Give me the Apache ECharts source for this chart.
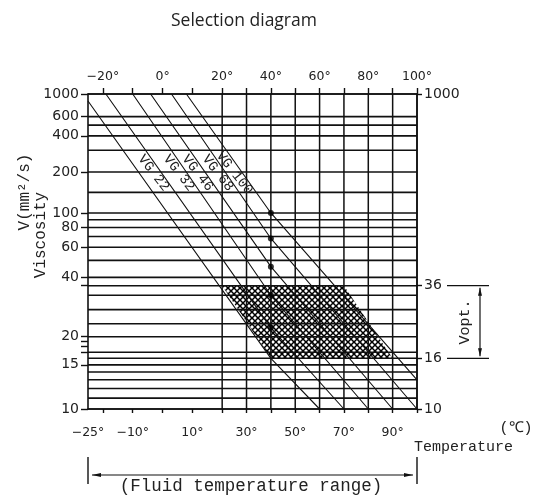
<!DOCTYPE html>
<html><head><meta charset="utf-8">
<script src="https://cdn.jsdelivr.net/npm/echarts@6/dist/echarts.min.js"></script>
<style>html,body{margin:0;padding:0;background:#fff}#c{width:542px;height:497px}</style>
</head><body><div id="c"></div>
<script>
// ---------------- data ----------------
const viscGridLines   = [1000,600,500,400,300,200,140,100,90,80,70,60,50,40,36,32,27,23,20,17,16,15,14,13,12,11,10];
const viscLeftLabels  = [1000,600,400,200,100,80,60,40,20,15,10];
const viscLeftTicks   = [1000,600,400,200,100,80,60,40,36,20,19,18,17,15,10];
const viscRightLabels = [1000,36,16,10];
const tempGridLines   = [20,30,40,50,60,70,80,90,100];
const tempTopLabels   = [-20,0,20,40,60,80,100];
const tempBottomLabels= [-25,-10,10,30,50,70,90];
const tempTicks       = [-20,-10,0,10,20,30,40,50,60,70,80,90,100];
const vgNames  = ['', 'VG 22', 'VG 32', 'VG 46', 'VG 68', 'VG 100'];
const vgTemps  = [[-25,40,60],[-19,40,70],[-10,40,80],[-4,40,90],[3,40,100],[8,40,100]];
const vgVisc   = [[850,16,10],[1000,22,10],[1000,32,10],[1000,46,10],[1000,68,10],[1000,100,13]];
const dotTemp  = 40;
const dotVisc  = [22,32,46,68,100];
const optTemps = [20,70,90,40];
const optVisc  = [36,36,16,16];
const tempRange = [-25,100];
const viscRange = [10,1000];
const vOptRange = [36,16];

// ---------------- scale transforms ----------------
const BREAK = 20, STRETCH = 2.984/2.4375;       // temperature axis is stretched below 20 °C
const tx  = T => T >= BREAK ? T : BREAK + (T - BREAK) * STRETCH;
const itx = x => x >= BREAK ? x : BREAK + (x - BREAK) / STRETCH;
const ty  = v => Math.log10(Math.log10(v + 0.7));   // Ubbelohde-Walther viscosity scale
const ity = w => Math.pow(10, Math.pow(10, w)) - 0.7;

const XMIN = tx(tempRange[0]), XMAX = tx(tempRange[1]);
const YMIN = ty(viscRange[0]), YMAX = ty(viscRange[1]);
const INK = '#111', TXT = '#222';
const NUM = 'DejaVu Sans', MONO = 'Liberation Mono';
const degFmt = v => { const t = Math.round(itx(v)); return (t < 0 ? '\u2212' + Math.abs(t) : t) + '°'; };
const visFmt = v => String(Math.round(ity(v)));

function hatch(){
  const c = document.createElement('canvas'); c.width = 6; c.height = 6;
  const g = c.getContext('2d');
  g.fillStyle = '#fff'; g.fillRect(0,0,6,6);
  g.strokeStyle = '#000'; g.lineWidth = 1.5;
  g.beginPath(); g.moveTo(-1,-1); g.lineTo(7,7); g.moveTo(7,-1); g.lineTo(-1,7); g.stroke();
  return c;
}
const pat = hatch();

const chart = echarts.init(document.getElementById('c'), null, {renderer:'canvas'});
const series = [];

// optimal viscosity area
series.push({type:'custom', name:'opt', z:1, silent:true, animation:false,
  data:[[XMIN,YMIN]],
  renderItem:(p,api)=>{
    const pts = optTemps.map((t,i)=>api.coord([tx(t), ty(optVisc[i])]));
    return {type:'polygon', shape:{points:pts}, style:{fill:{image:pat, repeat:'repeat'}, stroke:null}};
  }});

// horizontal grid
series.push({type:'custom', name:'hgrid', z:2, silent:true, animation:false,
  data: viscGridLines.map(v=>[XMIN, ty(v)]),
  renderItem:(p,api)=>{
    const y = api.value(1), a = api.coord([XMIN,y]), b = api.coord([XMAX,y]);
    return {type:'line', shape:{x1:a[0],y1:a[1],x2:b[0],y2:b[1]}, style:{stroke:INK, lineWidth:1.6}};
  }});
// vertical grid
series.push({type:'custom', name:'vgrid', z:2, silent:true, animation:false,
  data: tempGridLines.map(t=>[tx(t), YMIN]),
  renderItem:(p,api)=>{
    const x = api.value(0), a = api.coord([x,YMIN]), b = api.coord([x,YMAX]);
    return {type:'line', shape:{x1:a[0],y1:a[1],x2:b[0],y2:b[1]}, style:{stroke:INK, lineWidth:1.5}};
  }});

// VG lines
vgTemps.forEach((ts,i)=>{
  series.push({type:'line', name:vgNames[i]||'VG 15', z:3, silent:true, animation:false,
    showSymbol:false, symbol:'none',
    data: ts.map((t,j)=>[tx(t), ty(vgVisc[i][j])]),
    lineStyle:{color:INK, width:1.1}});
});

// dots at 40 °C
series.push({type:'scatter', name:'dots', z:4, silent:true, animation:false, symbolSize:6,
  itemStyle:{color:'#000'}, data: dotVisc.map(v=>[tx(dotTemp), ty(v)])});

// VG labels
series.push({type:'custom', name:'vglabels', z:5, silent:true, animation:false,
  data: vgNames.map((n,i)=>[i, 0]).filter(d=>vgNames[d[0]]),
  renderItem:(p,api)=>{
    const i = api.value(0);
    const a = api.coord([tx(vgTemps[i][0]), ty(vgVisc[i][0])]);
    const b = api.coord([tx(vgTemps[i][1]), ty(vgVisc[i][1])]);
    const yT = 173, t = (yT - a[1])/(b[1]-a[1]);
    const x = a[0] + t*(b[0]-a[0]) - 8;
    return {type:'text', x:x, y:yT, rotation:-0.9,
      style:{text:vgNames[i], fill:TXT, font:'14px '+MONO, align:'center', verticalAlign:'middle', textAlign:'center', textVerticalAlign:'middle'}};
  }});

// annotations: Vopt bracket and temperature-range bracket
series.push({type:'custom', name:'annot', z:5, silent:true, animation:false,
  data:[[XMAX,YMIN]],
  renderItem:(p,api)=>{
    const r = api.coord([XMAX, ty(vOptRange[0])]), s = api.coord([XMAX, ty(vOptRange[1])]);
    const x0 = r[0]+30, x1 = r[0]+72, ax = r[0]+63;
    const b = api.coord([XMIN, YMIN]), e = api.coord([XMAX, YMIN]);
    const ly = b[1]+66;
    const ln = (x1_,y1_,x2_,y2_,w)=>({type:'line', shape:{x1:x1_,y1:y1_,x2:x2_,y2:y2_}, style:{stroke:INK, lineWidth:w||1.2}});
    const tri = pts=>({type:'polygon', shape:{points:pts}, style:{fill:INK}});
    return {type:'group', children:[
      ln(x0,r[1],x1,r[1]), ln(x0,s[1],x1,s[1]),
      ln(ax,r[1]+2,ax,s[1]-2),
      tri([[ax,r[1]+2],[ax-2,r[1]+10],[ax+2,r[1]+10]]),
      tri([[ax,s[1]-2],[ax-2,s[1]-10],[ax+2,s[1]-10]]),
      {type:'text', x:r[0]+48, y:(r[1]+s[1])/2, rotation:Math.PI/2,
        style:{text:'Vopt.', fill:TXT, font:'15px '+MONO, align:'center', verticalAlign:'middle', textAlign:'center', textVerticalAlign:'middle'}},
      ln(b[0],b[1]+48,b[0],b[1]+75,1.4), ln(e[0],e[1]+48,e[0],e[1]+75,1.4),
      ln(b[0]+4,ly,e[0]-4,ly),
      tri([[b[0]+4,ly],[b[0]+13,ly-2],[b[0]+13,ly+2]]),
      tri([[e[0]-4,ly],[e[0]-13,ly-2],[e[0]-13,ly+2]])
    ]};
  }});

const axLine = {show:true, onZero:false, lineStyle:{color:INK, width:1.6}};
const tickStyle = {color:INK, width:1.4};

chart.setOption({
  animation:false,
  backgroundColor:'#fff',
  title:{text:'Selection diagram', left:166, top:7,
    textStyle:{fontFamily:'Open Sans', fontSize:17.5, fontWeight:'normal', color:TXT}},
  grid:{left:88, right:125, top:94, bottom:88, containLabel:false},
  xAxis:[
    {type:'value', position:'bottom', min:XMIN, max:XMAX, axisLine:axLine,
      axisTick:{show:true, customValues:tempTicks.map(tx), length:4, lineStyle:tickStyle},
      axisLabel:{customValues:tempBottomLabels.map(tx), formatter:degFmt, margin:17,
        fontFamily:NUM, fontSize:12.5, color:TXT},
      splitLine:{show:false}},
    {type:'value', position:'top', min:XMIN, max:XMAX, axisLine:axLine,
      axisTick:{show:true, customValues:tempTicks.map(tx), length:6, lineStyle:tickStyle},
      axisLabel:{customValues:tempTopLabels.map(tx), formatter:degFmt, margin:11,
        fontFamily:NUM, fontSize:12.5, color:TXT},
      splitLine:{show:false}}
  ],
  yAxis:[
    {type:'value', position:'left', min:YMIN, max:YMAX, axisLine:axLine,
      axisTick:{show:true, customValues:viscLeftTicks.map(ty), length:7, lineStyle:tickStyle},
      axisLabel:{customValues:viscLeftLabels.map(ty), formatter:visFmt, margin:9,
        fontFamily:NUM, fontSize:14, color:TXT},
      splitLine:{show:false}},
    {type:'value', position:'right', min:YMIN, max:YMAX, axisLine:axLine,
      axisTick:{show:true, customValues:viscRightLabels.map(ty), length:5, lineStyle:tickStyle},
      axisLabel:{customValues:viscRightLabels.map(ty), formatter:visFmt, margin:7,
        fontFamily:NUM, fontSize:14, color:TXT},
      splitLine:{show:false}}
  ],
  graphic:[
    {type:'text', x:25, y:192, rotation:Math.PI/2,
      style:{text:'V(mm²/s)', fill:TXT, font:'16px '+MONO, align:'center', verticalAlign:'middle', textAlign:'center', textVerticalAlign:'middle'}},
    {type:'text', x:41, y:235, rotation:Math.PI/2,
      style:{text:'Viscosity', fill:TXT, font:'16px '+MONO, align:'center', verticalAlign:'middle', textAlign:'center', textVerticalAlign:'middle'}},
    {type:'text', x:414, y:447,
      style:{text:'Temperature', fill:TXT, font:'15px '+MONO, align:'left', verticalAlign:'middle', textAlign:'left', textVerticalAlign:'middle'}},
    {type:'text', x:516, y:428,
      style:{text:'(℃)', fill:TXT, font:'15px '+MONO, align:'center', verticalAlign:'middle', textAlign:'center', textVerticalAlign:'middle'}},
    {type:'text', x:251, y:486,
      style:{text:'(Fluid temperature range)', fill:TXT, font:'17.5px '+MONO, align:'center', verticalAlign:'middle', textAlign:'center', textVerticalAlign:'middle'}}
  ],
  series: series
});
</script></body></html>
